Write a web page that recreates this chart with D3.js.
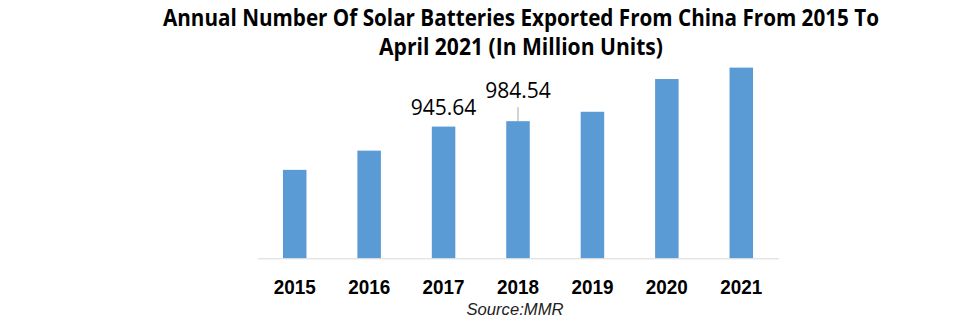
<!DOCTYPE html>
<html>
<head>
<meta charset="utf-8">
<script src="https://cdn.jsdelivr.net/npm/d3@7"></script>
<style>
  html, body { margin: 0; padding: 0; background: #ffffff; }
  svg { display: block; }
</style>
</head>
<body>
<svg id="chart" width="980" height="324"></svg>
<script>
// Chart data
const years = ["2015", "2016", "2017", "2018", "2019", "2020", "2021"];
const exports = [635, 773, 945.64, 984.54, 1052, 1287, 1369];
// Values printed above their bars (year -> label lift in px, leader line drawn when lifted)
const labelledYears = ["2017", "2018"];
const labelLift = [12, 23];
const titleLines = [
  "Annual Number Of Solar Batteries Exported From China From 2015 To",
  "April 2021 (In Million Units)"
];
const sourceText = "Source:MMR";

const svg = d3.select("#chart");

const x = d3.scaleBand().domain(years).range([257.5, 778.5]).padding(0);
const y = d3.scaleLinear().domain([0, 1400]).range([258.3, 63.3]);
const barW = x.bandwidth() * 0.316;

// Title
const titleWidths = [716, 284];
const titleY = [26, 54.5];
svg.selectAll("text.title")
  .data(titleLines)
  .join("text")
  .attr("class", "title")
  .attr("x", 521)
  .attr("y", (d, i) => titleY[i])
  .attr("text-anchor", "middle")
  .attr("font-family", "'Open Sans', sans-serif")
  .attr("font-weight", "bold")
  .attr("font-size", 22.4)
  .attr("fill", "#000")
  .attr("textLength", (d, i) => titleWidths[i])
  .attr("lengthAdjust", "spacingAndGlyphs")
  .text(d => d);

// Bars
svg.selectAll("rect.bar")
  .data(years)
  .join("rect")
  .attr("class", "bar")
  .attr("x", d => x(d) + (x.bandwidth() - barW) / 2)
  .attr("y", (d, i) => y(exports[i]))
  .attr("width", barW)
  .attr("height", (d, i) => y(0) - y(exports[i]))
  .attr("fill", "#5b9bd5");

// Category axis baseline
const axis = d3.axisBottom(x).tickSize(0).tickPadding(0).tickFormat("");
const axisG = svg.append("g").attr("transform", `translate(0,${y(0)})`).call(axis);
axisG.select(".domain").attr("stroke", "#d9d9d9").attr("stroke-width", 1);
axisG.selectAll(".tick text").remove();

// Year labels
svg.selectAll("text.year")
  .data(years)
  .join("text")
  .attr("class", "year")
  .attr("x", d => x(d) + x.bandwidth() / 2)
  .attr("y", 294)
  .attr("text-anchor", "middle")
  .attr("font-family", "'Liberation Sans', Arial, sans-serif")
  .attr("font-weight", "bold")
  .attr("font-size", 20.5)
  .attr("fill", "#000")
  .attr("textLength", 42)
  .attr("lengthAdjust", "spacingAndGlyphs")
  .text(d => d);

// Data labels with optional leader line
labelledYears.forEach((yr, k) => {
  const i = years.indexOf(yr);
  const cx = x(yr) + x.bandwidth() / 2;
  const top = y(exports[i]);
  const base = top - labelLift[k];
  if (labelLift[k] > 15) {
    svg.append("line")
      .attr("x1", cx).attr("x2", cx)
      .attr("y1", base + 9).attr("y2", top)
      .attr("stroke", "#a6a6a6").attr("stroke-width", 1);
  }
  svg.append("text")
    .attr("x", cx)
    .attr("y", base)
    .attr("text-anchor", "middle")
    .attr("font-family", "'Open Sans', sans-serif")
    .attr("font-size", 21)
    .attr("fill", "#000")
    .text(d3.format(".2f")(exports[i]));
});

// Source note
svg.append("text")
  .attr("x", 515)
  .attr("y", 315)
  .attr("text-anchor", "middle")
  .attr("font-family", "'Liberation Sans', Arial, sans-serif")
  .attr("font-style", "italic")
  .attr("font-size", 16.5)
  .attr("fill", "#222")
  .attr("textLength", 97)
  .attr("lengthAdjust", "spacingAndGlyphs")
  .text(sourceText);
</script>
</body>
</html>
